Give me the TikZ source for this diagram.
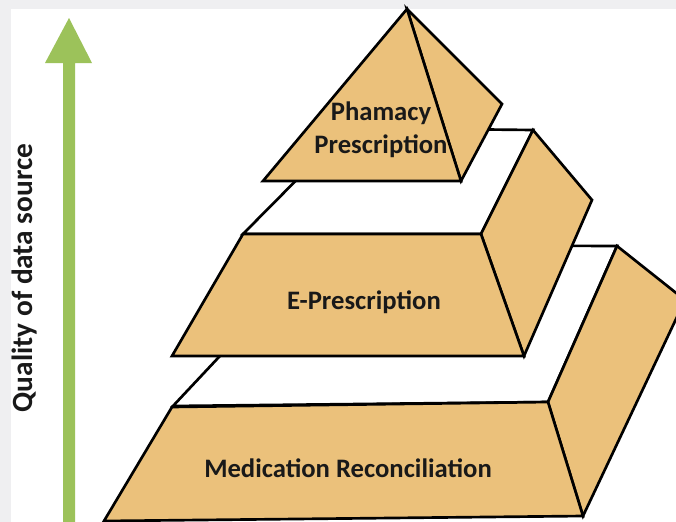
\documentclass[tikz,border=0pt]{standalone}
\usepackage{fontspec}
\setmainfont{Carlito}
\definecolor{blocktan}{HTML}{EBC17B}
\definecolor{arrowgreen}{HTML}{9CC25A}
\definecolor{framegray}{HTML}{EFEFF1}
\begin{document}
\begin{tikzpicture}[x=0.75pt,y=0.75pt,yscale=-1,xscale=1,
  face/.style={fill=blocktan,draw=black,line width=2pt},
  topface/.style={fill=white,draw=black,line width=2pt},
  lbl/.style={font=\fontsize{20}{25}\selectfont\bfseries,text=black!90,inner sep=0pt,align=center}]
\useasboundingbox (0,0) rectangle (676,522);
\clip (0,0) rectangle (676,522);
% background
\fill [framegray] (0,0) rectangle (676,522);
\fill [white] (11,9) rectangle (676,522);
% quality arrow
\fill [arrowgreen] (63,522) -- (63,63) -- (45,63) -- (69,18) -- (92,63) -- (75,63) -- (75,522) -- cycle;
\node (quality) [lbl, font=\fontsize{22}{26}\selectfont\bfseries, rotate=90] at (25,278) {Quality of data source};
% bottom tier
\draw [topface] (173,406) -- (548,402) -- (617,246) -- (324,245) -- cycle;
\draw [face] (548,402) -- (617,246) -- (685,300) -- (583,516) -- cycle;
\draw [face] (172,407) -- (548,402) -- (583,516) -- (104,521) -- cycle;
% middle tier
\draw [topface] (243,234) -- (481,234) -- (533,130) -- (348,128) -- cycle;
\draw [face] (481,234) -- (533,130) -- (592,200) -- (524,356) -- cycle;
\draw [face] (243,234) -- (481,234) -- (524,356) -- (172,356) -- cycle;
% top pyramid
\draw [face] (407,9) -- (502,104) -- (461,181) -- cycle;
\draw [face] (407,9) -- (461,181) -- (263,181) -- cycle;
% labels
\node (pharmacy) [lbl] at (381,130) {Phamacy\\Prescription};
\node (eprescr) [lbl] at (364,302) {E-Prescription};
\node (medrec) [lbl] at (348,468) {Medication Reconciliation};
\end{tikzpicture}
\end{document}
